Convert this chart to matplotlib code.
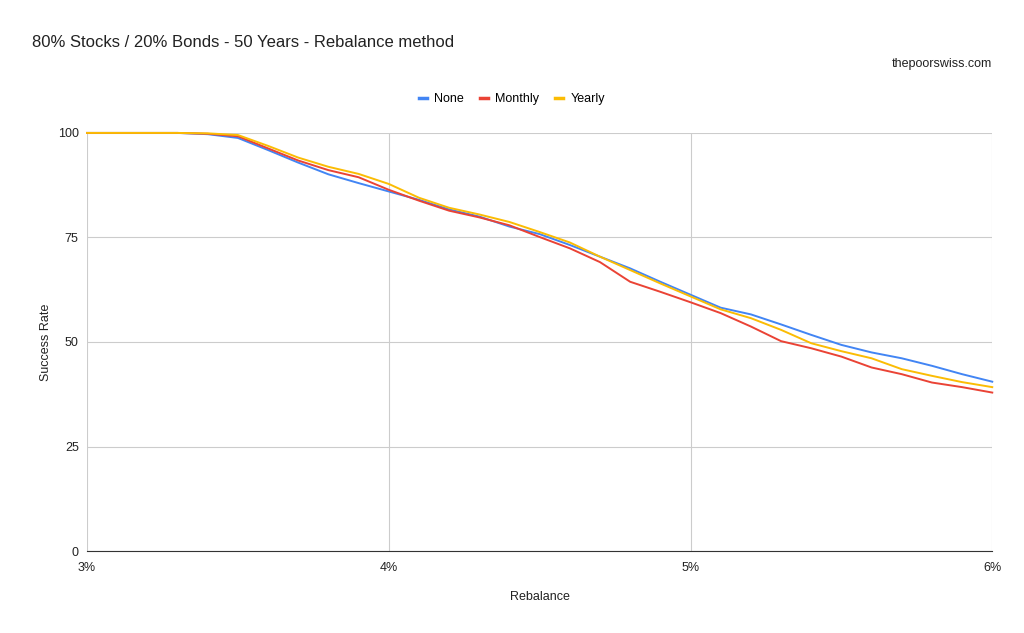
import matplotlib
matplotlib.use('Agg')
import matplotlib.pyplot as plt
import numpy as np

plt.rcParams['font.family'] = ['Liberation Sans', 'DejaVu Sans']

# withdrawal rates (%)
rates = [3.0, 3.1, 3.2, 3.3, 3.4, 3.5, 3.6, 3.7, 3.8, 3.9, 4.0,
         4.1, 4.2, 4.3, 4.4, 4.5, 4.6, 4.7, 4.8, 4.9, 5.0,
         5.1, 5.2, 5.3, 5.4, 5.5, 5.6, 5.7, 5.8, 5.9, 6.0]

none_rate = [100, 100, 100, 100, 99.7, 98.8, 95.9, 92.9, 90.1, 88.0, 86.0,
             84.0, 81.7, 80.0, 77.6, 75.8, 73.2, 70.4, 67.6, 64.4, 61.3,
             58.2, 56.6, 54.2, 51.7, 49.3, 47.5, 46.1, 44.3, 42.3, 40.5]
monthly_rate = [100, 100, 100, 100, 99.8, 99.2, 96.3, 93.4, 91.1, 89.4, 86.4,
                83.8, 81.4, 79.8, 77.9, 75.1, 72.4, 69.1, 64.4, 62.0, 59.5,
                56.9, 53.7, 50.2, 48.5, 46.5, 43.9, 42.3, 40.3, 39.2, 37.9]
yearly_rate = [100, 100, 100, 100, 99.9, 99.5, 96.9, 94.1, 91.9, 90.2, 87.8,
               84.5, 82.1, 80.5, 78.7, 76.3, 73.8, 70.4, 67.2, 64.0, 60.9,
               57.8, 55.7, 52.9, 49.7, 47.8, 46.1, 43.5, 41.9, 40.4, 39.2]

series = [('None', none_rate, '#4285F4'),
          ('Monthly', monthly_rate, '#EA4335'),
          ('Yearly', yearly_rate, '#FBBC04')]

fig = plt.figure(figsize=(10.24, 6.33), dpi=100)
ax = fig.add_axes([0.085, 0.1295, 0.884, 0.6605])

for name, vals, color in series:
    ax.plot(rates, vals, color=color, linewidth=1.4, label=name, clip_on=False)

ax.set_xlim(3, 6)
ax.set_ylim(0, 100)
ax.set_xticks([3, 4, 5, 6])
ax.set_xticklabels(['3%', '4%', '5%', '6%'])
ax.set_yticks([0, 25, 50, 75, 100])
ax.grid(True, color='#cccccc', linewidth=0.8)
ax.set_axisbelow(True)
for s in ['top', 'right', 'left']:
    ax.spines[s].set_visible(False)
ax.spines['bottom'].set_color('#333333')
ax.tick_params(length=0, labelsize=9, colors='#222222')
ax.tick_params(axis='x', pad=8)
ax.tick_params(axis='y', pad=6)

ax.set_xlabel('Rebalance', fontsize=9, color='#222222', labelpad=12)
ax.set_ylabel('Success Rate', fontsize=9, color='#222222', labelpad=4)

fig.text(0.031, 0.933, '80% Stocks / 20% Bonds - 50 Years - Rebalance method',
         fontsize=12, color='#222222', va='center')
fig.text(0.969, 0.899, 'thepoorswiss.com', fontsize=9, color='#222222',
         ha='right', va='center')

fig.legend(loc='center', bbox_to_anchor=(0.5, 0.843), ncol=3, frameon=False,
           fontsize=9, handlelength=0.6, handletextpad=0.6, columnspacing=1.3)
leg = fig.legends[0]
for h in leg.legend_handles:
    h.set_linewidth(2.5)

fig.savefig('out.png', dpi=100, facecolor='white')
